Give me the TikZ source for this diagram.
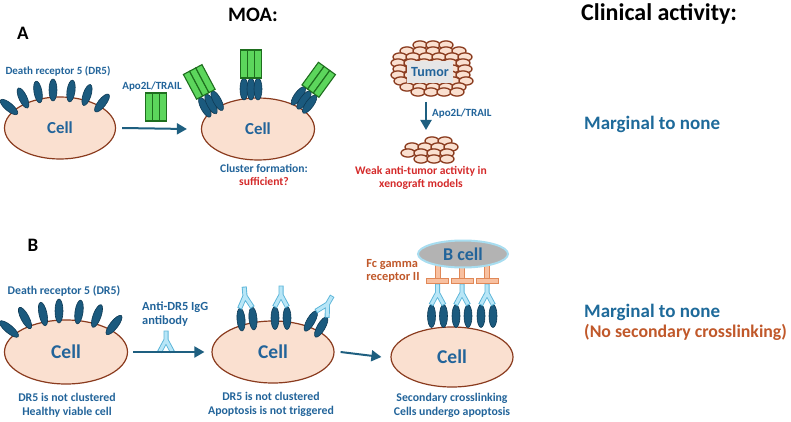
\documentclass[tikz,border=0pt]{standalone}
\usepackage{fontspec}
\setmainfont{Carlito}
\usetikzlibrary{shapes.geometric,arrows.meta}
\definecolor{tblue}{HTML}{22649A}
\definecolor{mblue}{HTML}{1E6A9A}
\definecolor{recfill}{HTML}{1B5A7E}
\definecolor{recline}{HTML}{0E3A55}
\definecolor{arrowc}{HTML}{1E5F80}
\definecolor{cellfill}{HTML}{FAE0D0}
\definecolor{cellline}{HTML}{8A3B1E}
\definecolor{tred}{HTML}{D42A2A}
\definecolor{torange}{HTML}{C0582A}
\definecolor{fcfill}{HTML}{F8C0A0}
\definecolor{fcline}{HTML}{E08858}
\definecolor{abfill}{HTML}{B8E6F7}
\definecolor{abline}{HTML}{5AB4D8}
\definecolor{bgray}{HTML}{B3B3B3}
\definecolor{bline}{HTML}{A8DDF0}
\definecolor{glight}{HTML}{5CD65C}
\definecolor{gdark}{HTML}{1E6E1E}
\definecolor{tumgray}{HTML}{E6E6E6}
\begin{document}
\begin{tikzpicture}[x=1pt,y=-1pt,
  rec/.style={ellipse, minimum width=8pt, minimum height=23pt, inner sep=0pt, fill=recfill, draw=recline, line width=0.6pt},
  cellnode/.style={ellipse, inner sep=0pt, fill=cellfill, draw=cellline, line width=1.2pt, text=tblue, font=\fontsize{16.8}{17}\selectfont\bfseries},
  bcellnode/.style={cellnode, font=\fontsize{19.5}{20}\selectfont\bfseries},
  lbl/.style={text=tblue, font=\fontsize{11}{13.5}\selectfont\bfseries, inner sep=0pt, align=center},
  blbl/.style={lbl, font=\fontsize{11.8}{14}\selectfont\bfseries},
  rlbl/.style={lbl, text=tred},
  olbl/.style={lbl, text=torange, font=\fontsize{12.4}{13}\selectfont\bfseries},
  head/.style={text=black, font=\fontsize{19}{21}\selectfont\bfseries, inner sep=0pt},
  clin/.style={text=mblue, font=\fontsize{19}{21}\selectfont\bfseries, inner sep=0pt, anchor=west},
  arr/.style={-{Triangle[length=10pt,width=11pt]}, line width=2pt, draw=arrowc},
  tumcell/.style={fill=cellfill, draw=cellline, line width=1.3pt},
  fcpart/.style={fill=fcfill, draw=fcline, line width=0.8pt},
  ligand/.pic={\foreach \i in {-1,0,1} \draw[fill=glight, draw=gdark, line width=1.1pt] (\i*7-3.5,-14) rectangle (\i*7+3.5,14);},
  antibody/.pic={
    \draw[abline, line width=5pt] (0,-21.5) -- (0,-12) -- (-6.5,0) (0,-12) -- (6.5,0);
    \draw[abfill, line width=3.2pt] (0,-20.6) -- (0,-12) -- (-6,-0.8) (0,-12) -- (6,-0.8);}
]
\useasboundingbox (0,0) rectangle (791,422);

% headings
\node[head, font=\fontsize{20.5}{22}\selectfont\bfseries] (moa) at (253,15) {MOA:};
\node[head, anchor=west, font=\fontsize{24}{26}\selectfont\bfseries] (clinh) at (581,14) {Clinical activity:};
\node[head] (la) at (23,33) {A};
\node[head] (lb) at (33,245) {B};
\node[clin] (c1) at (584,124) {Marginal to none};
\node[clin] (c2) at (584,312) {Marginal to none};
\node[clin, text=torange, font=\fontsize{17.8}{19}\selectfont\bfseries] (c3) at (584,332) {(No secondary crosslinking)};

% ---------- Panel A ----------
\node[cellnode, minimum width=111pt, minimum height=62pt] (a1) at (60,128) {Cell};
\foreach \px/\py/\ang in {9/107/50, 23/98/25, 38/92/10, 53/90/0, 71/91/-8, 87/95/-18, 102/103/-38}
  \node[rec, minimum height=22pt, rotate=\ang] at (\px,\py) {};
\node[lbl] (dra) at (58,71) {Death receptor 5 (DR5)};
\node[lbl] (apo1) at (152,87) {Apo2L/TRAIL};
\pic at (156,107) {ligand};

\node[cellnode, minimum width=113pt, minimum height=62pt] (a2) at (258,129) {Cell};
\foreach \cx/\cy/\ang in {211/104/28, 251/89/0, 304/100/-36}{
  \begin{scope}[shift={(\cx,\cy)}, rotate=\ang, transform shape]
    \foreach \k in {-7,0,7} \node[rec, minimum height=22pt] at (\k,0) {};
    \pic at (0,-25) {ligand};
  \end{scope}}
\draw[arr] ([xshift=6pt]a1.east) -- ([xshift=-14pt]a2.west);
\node[lbl, font=\fontsize{11.6}{13.5}\selectfont\bfseries] (clf) at (264,168) {Cluster formation:};
\node[rlbl, font=\fontsize{11.6}{13.5}\selectfont\bfseries] (suf) at (264,181) {sufficient?};

% tumor
\foreach \yy/\xs/\n in {45/420/2, 51/407/4, 57/400/5, 63/398/5, 69/400/5, 75/398/5, 81/401/5, 87/407/4, 92/418/3}
  \foreach \k in {0,...,\n}
    \draw[tumcell] (\xs+13*\k,\yy) ellipse [x radius=7pt, y radius=4.1pt];
\node[fill=tumgray, minimum width=46pt, minimum height=22pt, inner sep=0pt, text=tblue, font=\fontsize{14}{14}\selectfont\bfseries] (tum) at (430,72) {Tumor};
\coordinate (tA) at (426,102);
\coordinate (tB) at (426,130);
\draw[arr] (tA) -- (tB);
\node[lbl, anchor=west] (apo2) at (432,114) {Apo2L/TRAIL};
\foreach \yy/\xs/\n in {141/432/1, 147/412/3, 153/408/3, 159/421/2}
  \foreach \k in {0,...,\n}
    \draw[tumcell] (\xs+13*\k,\yy) ellipse [x radius=7pt, y radius=4.1pt];
\node[rlbl, font=\fontsize{11.6}{13.5}\selectfont\bfseries] (weak) at (421,178) {Weak anti-tumor activity in\\xenograft models};

% ---------- Panel B ----------
\node[bcellnode, minimum width=123pt, minimum height=64pt] (b1) at (66,352) {Cell};
\foreach \px/\py/\ang in {9/329/50, 25/318/28, 43/314/12, 59/311/0, 79/312/-8, 97/316/-20, 114/325/-38}
  \node[rec, minimum height=24pt, rotate=\ang] at (\px,\py) {};
\node[blbl] (drb) at (64,291) {Death receptor 5 (DR5)};
\node[blbl, align=left, anchor=north west, font=\fontsize{12.4}{13.5}\selectfont\bfseries] (anti) at (142,302) {Anti-DR5 IgG\\antibody};
\pic at (166,352) {antibody};
\node[blbl] (nb1) at (67,405) {DR5 is not clustered\\Healthy viable cell};

\node[bcellnode, minimum width=122pt, minimum height=62pt] (b2) at (273,352) {Cell};
\foreach \cx/\cy/\ang in {247/319/5, 281/318/0, 316/324/-30}{
  \begin{scope}[shift={(\cx,\cy)}, rotate=\ang, transform shape]
    \foreach \k in {-6,6} \node[rec] at (\k,0) {};
    \pic at (0,-11) {antibody};
  \end{scope}}
\draw[arr] ([xshift=5pt]b1.east) -- ([xshift=-7pt]b2.west);
\node[blbl] (nb2) at (271,404) {DR5 is not clustered\\Apoptosis is not triggered};

\node[bcellnode, minimum width=122pt, minimum height=60pt] (b3) at (452,357) {Cell};
\foreach \cx in {437.5, 462, 487}{
  \foreach \k in {-6,6} \node[rec] at (\cx+\k,316) {};
  \pic at (\cx,305) {antibody};
  \draw[fcpart] (\cx-2.5,258) rectangle (\cx+2.5,279);
  \draw[fcpart] (\cx-11,278.5) rectangle (\cx+11,283.5);}
\node[ellipse, minimum width=90pt, minimum height=27pt, inner sep=0pt, fill=bgray, draw=bline, line width=2pt, text=tblue, font=\fontsize{18}{18}\selectfont\bfseries] (bc) at (463,254) {B cell};
\draw[arr] ([xshift=6pt]b2.east) -- ([xshift=-9pt]b3.west);
\node[olbl, align=left] (fc) at (393,271) {Fc gamma\\receptor II};
\node[blbl] (nb3) at (452,405) {Secondary crosslinking\\Cells undergo apoptosis};
\end{tikzpicture}
\end{document}
